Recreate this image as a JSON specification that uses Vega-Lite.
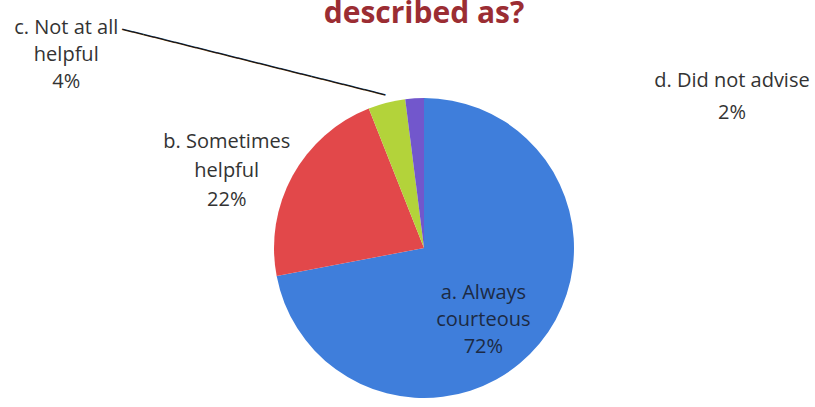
{
  "$schema": "https://vega.github.io/schema/vega-lite/v6.json",
  "width": 782,
  "height": 318,
  "autosize": {"type": "none"},
  "padding": {"left": 33, "top": 89, "right": 0, "bottom": 0},
  "background": "white",
  "config": {"view": {"stroke": null}},
  "title": {
    "text": "described as?",
    "font": "Open Sans",
    "fontSize": 30,
    "fontWeight": "bold",
    "color": "#9b2d33",
    "anchor": "middle",
    "baseline": "alphabetic",
    "offset": -41
  },
  "data": {
    "values": [
      {"key": "a", "label": "a. Always\ncourteous\n72%", "value": 72},
      {"key": "b", "label": "b. Sometimes\nhelpful\n22%", "value": 22},
      {"key": "c", "label": "c. Not at all\nhelpful\n4%", "value": 4},
      {"key": "d", "label": "d. Did not advise\n2%", "value": 2}
    ]
  },
  "encoding": {
    "theta": {"field": "value", "type": "quantitative", "stack": true, "scale": {"domain": [0, 100]}},
    "order": {"field": "key", "type": "ordinal", "sort": "ascending"}
  },
  "layer": [
    {
      "mark": {"type": "arc", "radius": 150},
      "encoding": {
        "color": {
          "field": "key",
          "type": "nominal",
          "scale": {"domain": ["a", "b", "c", "d"], "range": ["#3f7edb", "#e2484a", "#b3d33a", "#7257cc"]},
          "legend": null
        }
      }
    },
    {
      "mark": {"type": "text", "radius": 157, "angle": 14, "align": "right", "baseline": "middle", "font": "DejaVu Sans Mono", "fontSize": 18, "color": "#1a1a1a"},
      "encoding": {
        "text": {"condition": {"test": "datum.key === 'c'", "value": "─────────────────────────"}, "value": ""}
      }
    },
    {
      "mark": {"type": "text", "radius": 90, "dx": -10, "dy": -12, "font": "Open Sans", "fontSize": 20, "lineHeight": 27, "lineBreak": "\n", "align": "center", "baseline": "middle", "color": "#1c2a44"},
      "encoding": {
        "text": {"condition": {"test": "datum.key === 'a'", "field": "label", "type": "nominal"}, "value": ""}
      }
    },
    {
      "mark": {"type": "text", "radius": 200, "dx": -22, "dy": -10, "font": "Open Sans", "fontSize": 20, "lineHeight": 29, "lineBreak": "\n", "align": "center", "baseline": "middle", "color": "#333333"},
      "encoding": {
        "text": {"condition": {"test": "datum.key === 'b'", "field": "label", "type": "nominal"}, "value": ""}
      }
    },
    {
      "mark": {"type": "text", "radius": 200, "dx": -308, "dy": -26, "font": "Open Sans", "fontSize": 20, "lineHeight": 27, "lineBreak": "\n", "align": "center", "baseline": "middle", "color": "#333333"},
      "encoding": {
        "text": {"condition": {"test": "datum.key === 'c'", "field": "label", "type": "nominal"}, "value": ""}
      }
    },
    {
      "mark": {"type": "text", "radius": 160, "dx": 318, "dy": -7, "font": "Open Sans", "fontSize": 20, "lineHeight": 32, "lineBreak": "\n", "align": "center", "baseline": "middle", "color": "#333333"},
      "encoding": {
        "text": {"condition": {"test": "datum.key === 'd'", "field": "label", "type": "nominal"}, "value": ""}
      }
    }
  ]
}
